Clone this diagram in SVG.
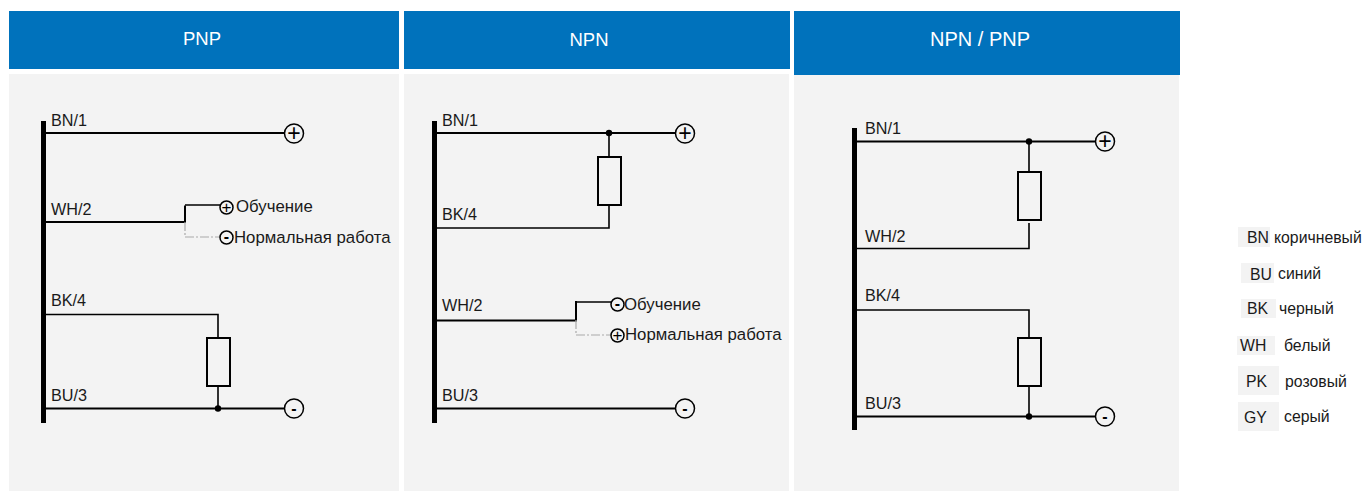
<svg xmlns="http://www.w3.org/2000/svg" width="1365" height="491" viewBox="0 0 1365 491">
<style>
text{font-family:"Liberation Sans",Arial,sans-serif;fill:#1a1a1a;font-size:16.200px}
.hd{fill:#0072bc}.bd{fill:#f3f3f3}
.ht{fill:#fff;font-size:18.500px;text-anchor:middle}
.w{fill:none;stroke:#000;stroke-width:2}
.thin{fill:none;stroke:#000;stroke-width:1.6}
.g{fill:none;stroke:#aaa;stroke-width:1.2;stroke-dasharray:9 2 2 2}
.bus{fill:#000}
.t{fill:none;stroke:#000;stroke-width:1.5}
.s{text-anchor:middle;fill:#000;font-size:23px}
.s2{text-anchor:middle;fill:#000;font-size:16px;font-weight:bold}
.s3{text-anchor:middle;fill:#000;font-size:17px}
.lbl{font-size:16.800px}
.l{font-size:15.800px}
.lg{fill:#f3f3f3}
.r{fill:none;stroke:#000;stroke-width:2}
</style>
<g id="panel-pnp">
<rect class="bd" x="9" y="74" width="390" height="417"/>
<rect class="hd" x="9" y="11" width="390" height="58"/>
<text class="ht" x="202" y="45">PNP</text>
<rect class="bus" x="41" y="121" width="5" height="302"/>
<text x="51" y="126">BN/1</text><text x="51" y="215">WH/2</text><text x="51" y="306">BK/4</text><text x="51" y="401">BU/3</text>
</g>
<g id="panel-npn">
<rect class="bd" x="404" y="74" width="385" height="417"/>
<rect class="hd" x="404" y="11" width="386" height="58"/>
<text class="ht" x="589" y="46">NPN</text>
<rect class="bus" x="432" y="121" width="5" height="302"/>
<text x="442" y="126">BN/1</text><text x="442" y="220">BK/4</text><text x="442" y="311">WH/2</text><text x="442" y="401">BU/3</text>
</g>
<g id="panel-npn-pnp">
<rect class="bd" x="794" y="75" width="385" height="416"/>
<rect class="hd" x="794" y="11" width="386" height="64"/>
<text class="ht" x="980" y="46" style="font-size:20px">NPN / PNP</text>
<rect class="bus" x="852" y="128" width="5" height="302"/>
<text x="865" y="134">BN/1</text><text x="865" y="242">WH/2</text><text x="865" y="301">BK/4</text><text x="865" y="409">BU/3</text>
</g>
<g id="connectors">
<path class="w" d="M46 133H284"/>
<path class="w" d="M46 222H185V205.500"/><path class="thin" d="M185 205H220"/><path class="g" d="M185 222V237H220"/>
<path class="thin" d="M46 314.500H218V338M218 386V408"/><path class="w" d="M46 408.500H284"/>
<circle cx="218" cy="408.500" r="3.200"/>
<path class="w" d="M437 133H675"/><path class="thin" d="M609 133V157M609 205V228H437"/>
<circle cx="609" cy="133" r="3.200"/>
<path class="w" d="M437 320.500H576V301"/><path class="thin" d="M576 302H611"/><path class="g" d="M576 320V335H611"/>
<path class="w" d="M437 408.500H675"/>
<path class="w" d="M857 141.500H1095"/><path class="thin" d="M1029 141V172M1029 223V248.500H857"/>
<circle cx="1029" cy="141.500" r="3.200"/>
<path class="thin" d="M857 310H1029V338M1029 386V416"/><path class="w" d="M857 416.500H1095"/>
<circle cx="1029" cy="416.500" r="3.200"/>
</g>
<g id="load-pnp"><rect class="r" x="207" y="338" width="23" height="48"/></g>
<g id="load-npn"><rect class="r" x="598" y="157" width="23" height="48"/></g>
<g id="load-np-a"><rect class="r" x="1018" y="172" width="23" height="48"/></g>
<g id="load-np-b"><rect class="r" x="1018" y="338" width="23" height="48"/></g>
<g id="term-pnp">
<circle class="t" cx="294" cy="133.500" r="9.500"/><text class="s" x="294" y="141">+</text>
<circle class="t" cx="294" cy="408.500" r="9.500"/><text class="s2" x="294" y="414">-</text>
<circle class="t" cx="226.500" cy="207.500" r="6.500"/><text class="s3" x="226.500" y="212.500">+</text>
<circle class="t" cx="226.500" cy="237.500" r="6.500"/><text class="s2" x="226.500" y="242">-</text>
<text class="lbl" x="236" y="212">Обучение</text><text class="lbl" x="234" y="243">Нормальная работа</text>
</g>
<g id="term-npn">
<circle class="t" cx="685" cy="133.500" r="9.500"/><text class="s" x="685" y="141">+</text>
<circle class="t" cx="685" cy="408.500" r="9.500"/><text class="s2" x="685" y="414">-</text>
<circle class="t" cx="617.500" cy="304.500" r="6.500"/><text class="s2" x="617.500" y="309">-</text>
<circle class="t" cx="617.500" cy="335.500" r="6.500"/><text class="s3" x="617.500" y="340.500">+</text>
<text class="lbl" x="624" y="310">Обучение</text><text class="lbl" x="625" y="340">Нормальная работа</text>
</g>
<g id="term-np">
<circle class="t" cx="1105" cy="141.500" r="9.500"/><text class="s" x="1105" y="149">+</text>
<circle class="t" cx="1105" cy="416.500" r="9.500"/><text class="s2" x="1105" y="422">-</text>
</g>
<g id="legend">
<rect class="lg" x="1238" y="227" width="32" height="20"/><text class="l" x="1247" y="243">BN</text><text class="l" x="1274" y="243">коричневый</text>
<rect class="lg" x="1241" y="263" width="33" height="20"/><text class="l" x="1250" y="280">BU</text><text class="l" x="1278" y="279">синий</text>
<rect class="lg" x="1241" y="299" width="35" height="19"/><text class="l" x="1247" y="314">BK</text><text class="l" x="1279" y="314">черный</text>
<rect class="lg" x="1237" y="336" width="38" height="19"/><text class="l" x="1240" y="351">WH</text><text class="l" x="1284" y="351">белый</text>
<rect class="lg" x="1238" y="366" width="41" height="29"/><text class="l" x="1246" y="387">PK</text><text class="l" x="1285" y="387">розовый</text>
<rect class="lg" x="1238" y="402" width="41" height="29"/><text class="l" x="1244" y="423">GY</text><text class="l" x="1284" y="422">серый</text>
</g>
</svg>
